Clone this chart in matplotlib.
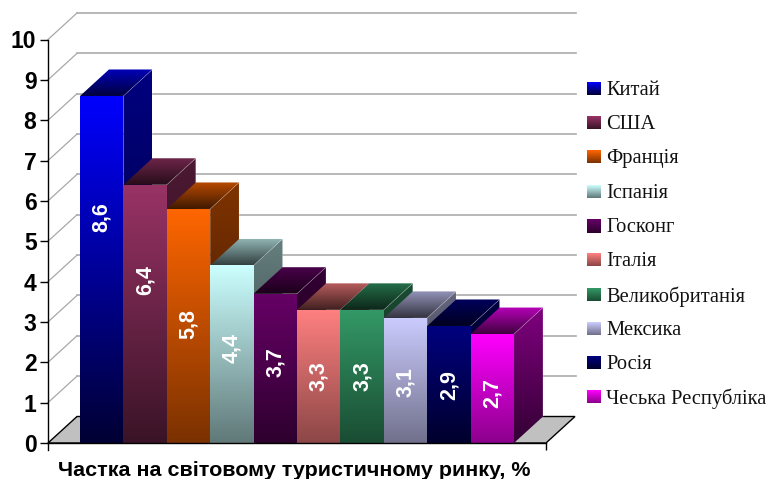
import matplotlib
matplotlib.use('Agg')
import matplotlib.pyplot as plt
import numpy as np
from matplotlib.colors import LinearSegmentedColormap, to_rgb
from matplotlib.patches import Polygon

countries = ['Китай', 'США', 'Франція', 'Іспанія', 'Госконг', 'Італія',
             'Великобританія', 'Мексика', 'Росія', 'Чеська Республіка']
shares = [8.6, 6.4, 5.8, 4.4, 3.7, 3.3, 3.3, 3.1, 2.9, 2.7]
share_labels = ['8,6', '6,4', '5,8', '4,4', '3,7', '3,3', '3,3', '3,1', '2,9', '2,7']
y_ticks = list(range(11))
x_title = 'Частка на світовому туристичному ринку, %'

# styling, per bar
colors = ['#0000FF', '#993366', '#FF6600', '#CCFFFF', '#660066',
          '#FF8080', '#339966', '#CCCCFF', '#000080', '#FF00FF']
bottom_shade = [0.2, 0.38, 0.48, 0.47, 0.45, 0.55, 0.5, 0.55, 0.35, 0.55]
label_heights = [5.6, 4.05, 2.95, 2.35, 2.0, 1.65, 1.65, 1.5, 1.43, 1.24]

W, H = 770, 479
px_x = 43.4   # pixels per bar
px_y = 40.35  # pixels per unit of value
x0 = 80       # left edge of first bar
y0 = 443      # pixel row of value 0
depth_x = 29 / px_x
depth_y = 26.5 / px_y
floor_l = -32 / px_x
floor_r = len(shares) - floor_l


def shade(color, f):
    return tuple(c * f for c in to_rgb(color))


def gradient_poly(ax, pts, top, bottom, zorder):
    # vertical gradient clipped to a polygon
    pts = np.array(pts)
    cmap = LinearSegmentedColormap.from_list('g', [top, bottom])
    grad = np.linspace(0, 1, 256).reshape(-1, 1)
    extent = (pts[:, 0].min(), pts[:, 0].max(), pts[:, 1].min(), pts[:, 1].max())
    im = ax.imshow(grad, cmap=cmap, extent=extent, origin='upper', aspect='auto',
                   zorder=zorder, interpolation='bilinear')
    im.set_clip_path(Polygon(pts, transform=ax.transData))


fig = plt.figure(figsize=(W / 100, H / 100), dpi=100)
ax = fig.add_axes([0, 0, 1, 1])
ax.patch.set_visible(False)

# gridlines on the side and back walls
for v in y_ticks[1:]:
    ax.plot([floor_l, floor_l + depth_x], [v, v + depth_y], color='#A8A8A8', lw=0.9, zorder=1)
    ax.plot([floor_l + depth_x, floor_r + depth_x + 1.3 / px_x], [v + depth_y, v + depth_y],
            color='#ABABAB', lw=1.2, zorder=1)

# floor
ax.add_patch(Polygon([(floor_l, 0), (floor_r, 0), (floor_r + depth_x, depth_y), (floor_l + depth_x, depth_y)],
                     facecolor='#C0C0C0', edgecolor='black', lw=1.0, zorder=1.5))

z = 2
for i, (v, c) in enumerate(zip(shares, colors)):
    l, r = i, i + 1
    side = [(r, 0), (r + depth_x, depth_y), (r + depth_x, v + depth_y), (r, v)]
    top = [(l, v), (r, v), (r + depth_x, v + depth_y), (l + depth_x, v + depth_y)]
    front = [(l, 0), (r, 0), (r, v), (l, v)]
    gradient_poly(ax, side, shade(c, 0.5), shade(c, 0.2), z)
    gradient_poly(ax, top, shade(c, 0.72), shade(c, 0.25), z + 0.1)
    gradient_poly(ax, front, c, shade(c, bottom_shade[i]), z + 0.2)
    # thin light edges of the box
    ax.plot([r, r + depth_x, r + depth_x], [v, v + depth_y, depth_y + 0.0], color='#FFFFFF',
            lw=0.5, alpha=0.3, zorder=z + 0.15)
    ax.text(i + 0.5, label_heights[i], share_labels[i], rotation=90, color='white',
            ha='center', va='center', fontsize=15.5, fontweight='bold',
            family='Liberation Sans', zorder=20)
    z += 1

ax.set_xlim(-x0 / px_x, (W - x0) / px_x)
ax.set_ylim((y0 - H) / px_y, y0 / px_y)

# real axes, moved onto the chart frame
for s in ['top', 'right']:
    ax.spines[s].set_visible(False)
ax.spines['left'].set_position(('data', floor_l))
ax.spines['left'].set_bounds(-7 / px_y, 10)
ax.spines['bottom'].set_position(('data', 0))
ax.spines['bottom'].set_bounds(floor_l, floor_r)
for s in ['left', 'bottom']:
    ax.spines[s].set_linewidth(1.0)
    ax.spines[s].set_zorder(30)
ax.set_yticks(y_ticks)
ax.set_yticklabels([str(t) for t in y_ticks], fontsize=16.5, fontweight='bold', family='Liberation Sans')
ax.tick_params(axis='y', length=5.8, width=1.0, pad=2.5)
ax.set_xticks([floor_r])
ax.set_xticklabels([''])
ax.tick_params(axis='x', length=5, width=1.0)

fig.text(294.5 / W, 1 - 471 / H, x_title, ha='center', va='center', fontsize=15.45,
         fontweight='bold', family='Liberation Sans')

# legend, built in pixel space
lax = fig.add_axes([0, 0, 1, 1])
lax.axis('off')
legend_y = [88.5, 123, 157, 192, 226, 260, 295, 329, 363, 397]
for name, c, f, y in zip(countries, colors, bottom_shade, legend_y):
    cmap = LinearSegmentedColormap.from_list('g', [c, shade(c, f)])
    lax.imshow(np.linspace(0, 1, 32).reshape(-1, 1), cmap=cmap, aspect='auto',
               extent=(587, 601, y + 6.5, y - 6.5), origin='upper', interpolation='bilinear')
    lax.text(606, y + 1.5, name, ha='left', va='center', fontsize=14.8, color='#111111',
             family='Liberation Serif')
lax.set_xlim(0, W)
lax.set_ylim(H, 0)

fig.savefig('out.png', dpi=100)
